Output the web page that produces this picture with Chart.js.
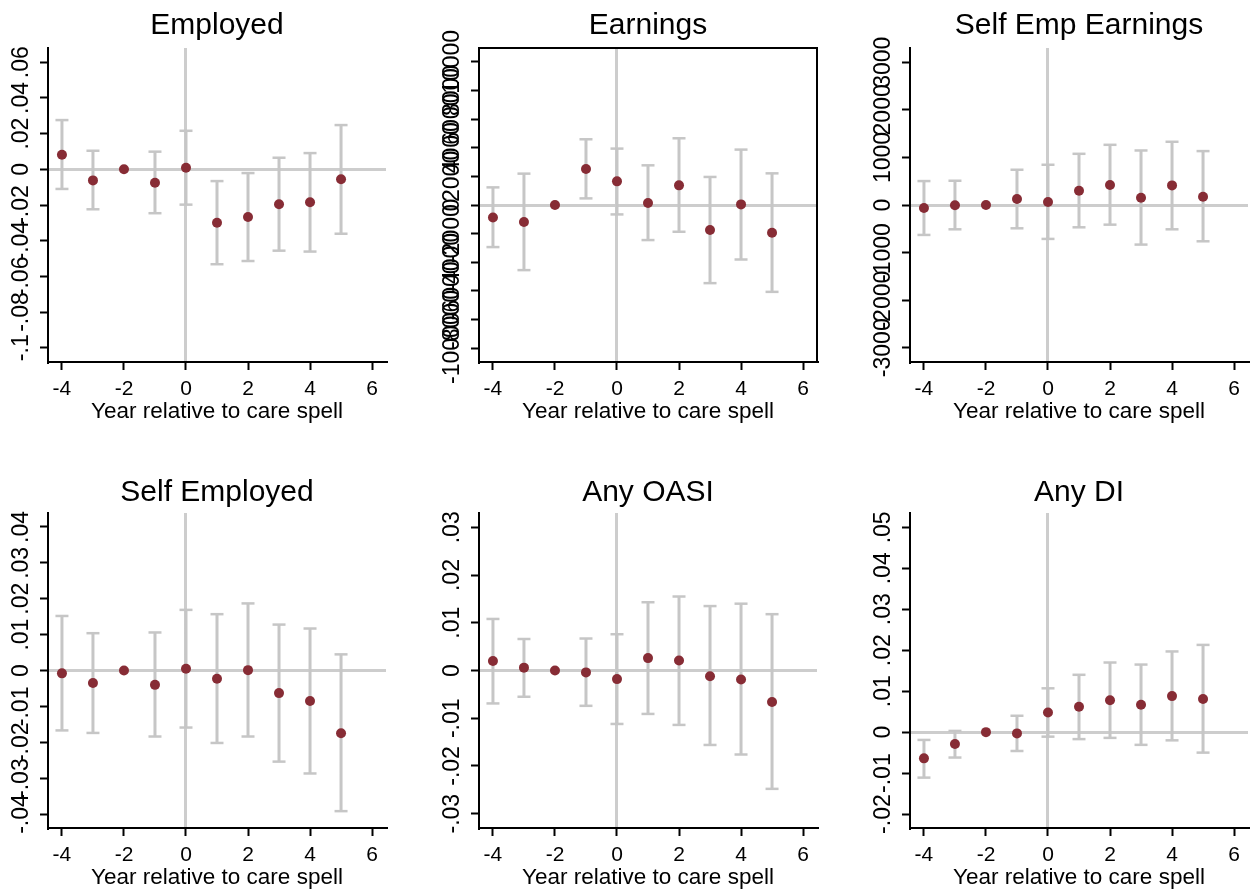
<!DOCTYPE html>
<html>
<head>
<meta charset="utf-8">
<script src="https://cdn.jsdelivr.net/npm/chart.js@4.4.1/dist/chart.umd.min.js"></script>
<style>
  html, body { margin: 0; padding: 0; background: #fff; }
  #wrap { position: relative; width: 1257px; height: 890px; overflow: hidden; background: #fff; }
  #wrap canvas { position: absolute; }
</style>
</head>
<body>
<div id="wrap"></div>
<script>
// Event-study estimates by year relative to the care spell (reference year -2)
const years = [-4, -3, -2, -1, 0, 1, 2, 3, 4, 5];
const xTicks = [-4, -2, 0, 2, 4, 6];
const xTickLabels = ['-4', '-2', '0', '2', '4', '6'];
const xLimits = [-4.45, 6.45];
const xTitle = 'Year relative to care spell';

// Employed
const employedCoef = [0.0082, -0.0062, 0, -0.0075, 0.0009, -0.0299, -0.0267, -0.0196, -0.0185, -0.0056];
const employedLow  = [-0.0110, -0.0224, null, -0.0246, -0.0198, -0.0532, -0.0514, -0.0456, -0.0461, -0.0361];
const employedHigh = [0.0276, 0.0104, null, 0.0099, 0.0216, -0.0066, -0.0021, 0.0065, 0.0091, 0.0248];
const employedTicks = [-0.1, -0.08, -0.06, -0.04, -0.02, 0, 0.02, 0.04, 0.06];
const employedTickLabels = ['-.1', '-.08', '-.06', '-.04', '-.02', '0', '.02', '.04', '.06'];
const employedLimits = [-0.108, 0.068];

// Earnings
const earningsCoef = [-868, -1190, 0, 2520, 1652, 140, 1372, -1750, 42, -1939];
const earningsLow  = [-2940, -4550, null, 462, -658, -2450, -1869, -5460, -3808, -6069];
const earningsHigh = [1232, 2191, null, 4592, 3941, 2772, 4662, 1960, 3871, 2212];
const earningsTicks = [-10000, -8000, -6000, -4000, -2000, 0, 2000, 4000, 6000, 8000, 10000];
const earningsTickLabels = ['-10000', '-8000', '-6000', '-4000', '-2000', '0', '2000', '4000', '6000', '8000', '10000'];
const earningsLimits = [-10970, 10970];

// Self Emp Earnings
const seEarningsCoef = [-63, -7, 0, 126, 63, 300, 420, 153, 412, 174];
const seEarningsLow  = [-629, -511, null, -490, -713, -469, -413, -832, -511, -763];
const seEarningsHigh = [503, 510, null, 741, 846, 1076, 1265, 1146, 1329, 1133];
const seEarningsTicks = [-3000, -2000, -1000, 0, 1000, 2000, 3000];
const seEarningsTickLabels = ['-3000', '-2000', '-1000', '0', '1000', '2000', '3000'];
const seEarningsLimits = [-3300, 3300];

// Self Employed
const selfEmpCoef = [-0.0008, -0.0035, 0, -0.0040, 0.0005, -0.0023, 0.0001, -0.0063, -0.0085, -0.0175];
const selfEmpLow  = [-0.0167, -0.0174, null, -0.0184, -0.0159, -0.0202, -0.0184, -0.0254, -0.0287, -0.0392];
const selfEmpHigh = [0.0152, 0.0104, null, 0.0106, 0.0169, 0.0157, 0.0187, 0.0128, 0.0117, 0.0045];
const selfEmpTicks = [-0.04, -0.03, -0.02, -0.01, 0, 0.01, 0.02, 0.03, 0.04];
const selfEmpTickLabels = ['-.04', '-.03', '-.02', '-.01', '0', '.01', '.02', '.03', '.04'];
const selfEmpLimits = [-0.0439, 0.0439];

// Any OASI
const oasiCoef = [0.0020, 0.0006, 0, -0.0004, -0.0018, 0.0026, 0.0021, -0.0012, -0.0019, -0.0066];
const oasiLow  = [-0.0069, -0.0055, null, -0.0074, -0.0112, -0.0091, -0.0114, -0.0156, -0.0176, -0.0248];
const oasiHigh = [0.0108, 0.0066, null, 0.0067, 0.0076, 0.0143, 0.0155, 0.0135, 0.0140, 0.0118];
const oasiTicks = [-0.03, -0.02, -0.01, 0, 0.01, 0.02, 0.03];
const oasiTickLabels = ['-.03', '-.02', '-.01', '0', '.01', '.02', '.03'];
const oasiLimits = [-0.033, 0.033];

// Any DI
const diCoef = [-0.0064, -0.0029, 0, -0.0003, 0.0048, 0.0062, 0.0078, 0.0067, 0.0088, 0.0081];
const diLow  = [-0.0111, -0.0062, null, -0.0046, -0.0011, -0.0017, -0.0014, -0.0031, -0.0020, -0.0050];
const diHigh = [-0.0019, 0.0003, null, 0.0040, 0.0107, 0.0140, 0.0170, 0.0165, 0.0197, 0.0213];
const diTicks = [-0.02, -0.01, 0, 0.01, 0.02, 0.03, 0.04, 0.05];
const diTickLabels = ['-.02', '-.01', '0', '.01', '.02', '.03', '.04', '.05'];
const diLimits = [-0.0234, 0.0535];

// Styling
const FAMILY = '"Liberation Sans", Arial, Helvetica, sans-serif';
const POINT_COLOR = '#872c35';
const CI_COLOR = '#c6c6c6';
const REF_COLOR = '#cdcdcd';
const Y_FONT = 23;
const X_FONT = 21;

Chart.defaults.font.family = FAMILY;
Chart.defaults.color = '#000';

const measureCtx = document.createElement('canvas').getContext('2d');
function widestLabel(labels, size) {
  measureCtx.font = `normal ${size}px ${FAMILY}`;
  return Math.max(...labels.map(l => measureCtx.measureText(l).width));
}

// Full frame around the plot region (used by the Earnings panel)
const framePlugin = {
  id: 'frame',
  afterDatasetsDraw(chart, args, opts) {
    if (!opts || !opts.show) return;
    const { ctx, chartArea: a } = chart;
    ctx.save();
    ctx.strokeStyle = '#000';
    ctx.lineWidth = 2;
    ctx.strokeRect(a.left, a.top, a.right - a.left, a.bottom - a.top);
    ctx.restore();
  }
};

const panels = [
  { title: 'Employed', coef: employedCoef, low: employedLow, high: employedHigh,
    ticks: employedTicks, labels: employedTickLabels, limits: employedLimits,
    left: 48, top: 48, plotH: 314, titleMid: 25.8, frame: false },
  { title: 'Earnings', coef: earningsCoef, low: earningsLow, high: earningsHigh,
    ticks: earningsTicks, labels: earningsTickLabels, limits: earningsLimits,
    left: 479, top: 48, plotH: 314, titleMid: 25.8, frame: true },
  { title: 'Self Emp Earnings', coef: seEarningsCoef, low: seEarningsLow, high: seEarningsHigh,
    ticks: seEarningsTicks, labels: seEarningsTickLabels, limits: seEarningsLimits,
    left: 910, top: 48, plotH: 314, titleMid: 25.8, frame: false },
  { title: 'Self Employed', coef: selfEmpCoef, low: selfEmpLow, high: selfEmpHigh,
    ticks: selfEmpTicks, labels: selfEmpTickLabels, limits: selfEmpLimits,
    left: 48, top: 513, plotH: 315, titleMid: 493, frame: false },
  { title: 'Any OASI', coef: oasiCoef, low: oasiLow, high: oasiHigh,
    ticks: oasiTicks, labels: oasiTickLabels, limits: oasiLimits,
    left: 479, top: 513, plotH: 315, titleMid: 493, frame: false },
  { title: 'Any DI', coef: diCoef, low: diLow, high: diHigh,
    ticks: diTicks, labels: diTickLabels, limits: diLimits,
    left: 910, top: 513, plotH: 315, titleMid: 493, frame: false }
];

const Y_AXIS_W = 48;    // space left of the plot for the y axis
const TITLE_H = 48;     // space above the plot for the title
const X_AXIS_H = 72;    // space below the plot for the x axis
const PLOT_W = 343;
const RIGHT_PAD = 4;
const TICK_LEN = 8;

const wrap = document.getElementById('wrap');

panels.forEach(p => {
  const cw = Y_AXIS_W + PLOT_W + RIGHT_PAD;
  const ch = TITLE_H + p.plotH + X_AXIS_H;
  const canvasLeft = p.left - Y_AXIS_W;
  const canvasTop = p.top - TITLE_H;

  const cv = document.createElement('canvas');
  cv.width = cw; cv.height = ch;
  cv.style.width = cw + 'px'; cv.style.height = ch + 'px';
  cv.style.left = canvasLeft + 'px'; cv.style.top = canvasTop + 'px';
  wrap.appendChild(cv);

  const points = years.map((x, i) => ({ x, y: p.coef[i] }));
  const stems = [];
  const caps = [];
  years.forEach((x, i) => {
    if (p.low[i] === null || p.high[i] === null) return;
    stems.push({ x, y: p.low[i] }, { x, y: p.high[i] }, { x, y: null });
    caps.push({ x, y: p.low[i] }, { x, y: p.high[i] });
  });

  const titlePadTop = (p.titleMid - canvasTop) - 15;
  const titlePadBottom = TITLE_H - 30 - titlePadTop;
  const yPad = 18 - widestLabel(p.labels, Y_FONT) / 2;

  const zeroOnly = ctx => (ctx.tick && ctx.tick.value === 0) ? REF_COLOR : 'rgba(0,0,0,0)';

  new Chart(cv.getContext('2d'), {
    type: 'scatter',
    data: {
      datasets: [
        { type: 'scatter', data: points, pointRadius: 5, pointHoverRadius: 5,
          pointBackgroundColor: POINT_COLOR, pointBorderWidth: 0, pointBorderColor: POINT_COLOR },
        { type: 'scatter', data: caps, pointStyle: 'line', pointRadius: 6.5, pointHoverRadius: 6.5,
          pointBorderColor: CI_COLOR, pointBorderWidth: 2.5, pointRotation: 0 },
        { type: 'line', data: stems, showLine: true, spanGaps: false, pointRadius: 0,
          borderColor: CI_COLOR, borderWidth: 3, fill: false }
      ]
    },
    options: {
      responsive: false,
      animation: false,
      devicePixelRatio: 1,
      layout: { padding: { left: 0, top: 0, right: RIGHT_PAD, bottom: 0 } },
      plugins: {
        legend: { display: false },
        tooltip: { enabled: false },
        frame: { show: p.frame },
        title: {
          display: true, text: p.title, fullSize: false, color: '#000',
          font: { size: 30, weight: 'normal', lineHeight: 1 },
          padding: { top: titlePadTop, bottom: titlePadBottom }
        }
      },
      scales: {
        x: {
          type: 'linear', min: xLimits[0], max: xLimits[1],
          afterBuildTicks: s => { s.ticks = xTicks.map(v => ({ value: v })); },
          afterFit: s => { s.height = X_AXIS_H; },
          ticks: {
            autoSkip: false, maxRotation: 0, minRotation: 0, padding: 7,
            font: { size: X_FONT }, color: '#000',
            callback: (v) => xTickLabels[xTicks.indexOf(v)]
          },
          grid: { color: zeroOnly, lineWidth: 3, drawTicks: true, tickLength: TICK_LEN,
                  tickColor: '#000', tickWidth: 2 },
          border: { display: true, color: '#000', width: 2 },
          title: { display: true, text: xTitle, color: '#000',
                   font: { size: 22.5, lineHeight: 1.2 }, padding: { top: 0, bottom: 8.3 } }
        },
        y: {
          type: 'linear', min: p.limits[0], max: p.limits[1],
          afterBuildTicks: s => { s.ticks = p.ticks.map(v => ({ value: v })); },
          afterFit: s => { s.width = Y_AXIS_W; },
          ticks: {
            autoSkip: false, minRotation: 90, maxRotation: 90, crossAlign: 'center',
            padding: yPad, font: { size: Y_FONT }, color: '#000',
            callback: (v) => p.labels[p.ticks.indexOf(v)]
          },
          grid: { color: zeroOnly, lineWidth: 3, drawTicks: true, tickLength: TICK_LEN,
                  tickColor: '#000', tickWidth: 2 },
          border: { display: true, color: '#000', width: 2 }
        }
      }
    },
    plugins: [framePlugin]
  });
});
</script>
</body>
</html>
